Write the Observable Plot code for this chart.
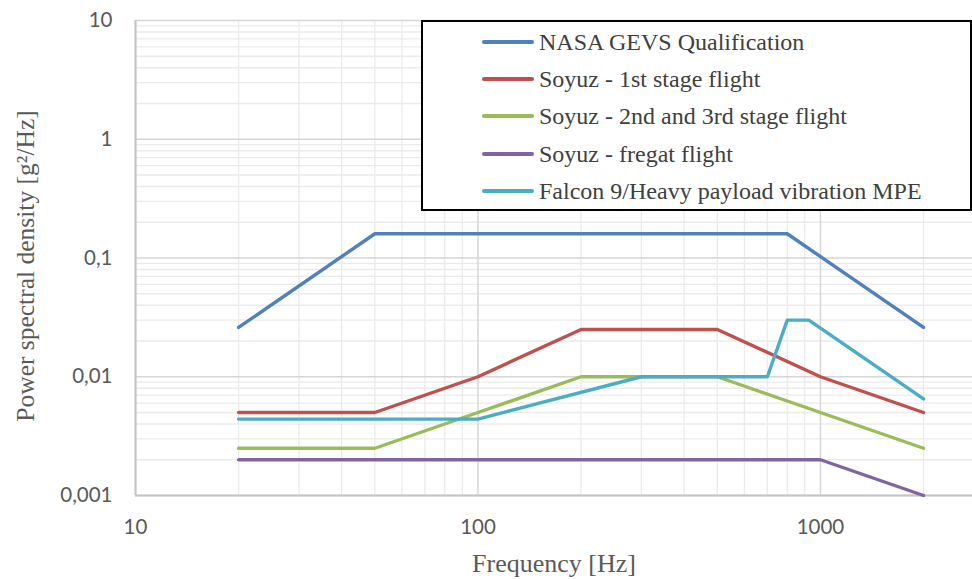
<!DOCTYPE html>
<html>
<head>
<meta charset="utf-8">
<script src="https://cdn.jsdelivr.net/npm/d3@7"></script>
<script src="https://cdn.jsdelivr.net/npm/@observablehq/plot@0.6"></script>
<style>
  html, body { margin: 0; padding: 0; background: #fff; }
  #wrap { position: relative; width: 972px; height: 579px; overflow: hidden; }
  #legend {
    position: absolute; left: 421px; top: 20px; width: 551px; height: 191px;
    box-sizing: border-box; border: 2px solid #000; background: #fff;
    font-family: "Liberation Serif", "Times New Roman", serif; font-size: 24px; color: #404040;
  }
  .row { position: absolute; left: 59px; height: 28px; display: flex; align-items: center; }
  .sw { width: 52px; height: 3.5px; border-radius: 2px; margin-right: 5px; }
</style>
</head>
<body>
<div id="wrap"><div id="legend"></div></div>
<script>
const seriesNames = [
  "NASA GEVS Qualification",
  "Soyuz - 1st stage flight",
  "Soyuz - 2nd and 3rd stage flight",
  "Soyuz - fregat flight",
  "Falcon 9/Heavy payload vibration MPE"
];
const seriesColors = ["#4F81BD", "#C0504D", "#9BBB59", "#8064A2", "#4BACC6"];

const nasaFreq = [20, 50, 800, 2000];
const nasaPsd  = [0.026, 0.16, 0.16, 0.026];
const soyuz1Freq = [20, 50, 100, 200, 500, 1000, 2000];
const soyuz1Psd  = [0.005, 0.005, 0.01, 0.025, 0.025, 0.01, 0.005];
const soyuz23Freq = [20, 50, 100, 200, 500, 1000, 2000];
const soyuz23Psd  = [0.0025, 0.0025, 0.005, 0.01, 0.01, 0.005, 0.0025];
const fregatFreq = [20, 1000, 2000];
const fregatPsd  = [0.002, 0.002, 0.001];
const falconFreq = [20, 100, 300, 700, 800, 925, 2000];
const falconPsd  = [0.0044, 0.0044, 0.01, 0.01, 0.03, 0.03, 0.0065];

const yTicks = [0.001, 0.01, 0.1, 1, 10];
const yTickLabels = ["0,001", "0,01", "0,1", "1", "10"];
const xTicks = [10, 100, 1000];
const xTickLabels = ["10", "100", "1000"];

const freqs = [nasaFreq, soyuz1Freq, soyuz23Freq, fregatFreq, falconFreq];
const psds = [nasaPsd, soyuz1Psd, soyuz23Psd, fregatPsd, falconPsd];
const data = [];
seriesNames.forEach((s, i) => freqs[i].forEach((f, j) => data.push({series: s, f, v: psds[i][j]})));

const xMax = 2780;
// grid positions
const xMinor = [], yMinor = [];
for (const d of [10, 100, 1000]) for (let k = 2; k <= 9; k++) if (d * k < xMax) xMinor.push(d * k);
for (const d of [0.001, 0.01, 0.1, 1]) for (let k = 2; k <= 9; k++) yMinor.push(d * k);

const chart = Plot.plot({
  width: 972, height: 579,
  marginLeft: 135, marginRight: 0, marginTop: 20, marginBottom: 84,
  style: {fontFamily: "Lato, sans-serif", background: "#fff"},
  x: {type: "log", domain: [10, xMax]},
  y: {type: "log", domain: [0.001, 10]},
  color: {domain: seriesNames, range: seriesColors},
  marks: [
    Plot.ruleX(xMinor, {stroke: "#ebebeb", strokeWidth: 1.3}),
    Plot.ruleY(yMinor, {stroke: "#ebebeb", strokeWidth: 1.3}),
    Plot.ruleX(xTicks, {stroke: "#d6d6d6", strokeWidth: 1.5}),
    Plot.ruleY(yTicks, {stroke: "#d6d6d6", strokeWidth: 1.5}),
    Plot.ruleX([10], {stroke: "#c4c4c4", strokeWidth: 2}),
    Plot.ruleY([0.001], {stroke: "#c4c4c4", strokeWidth: 2}),
    Plot.axisY(yTicks, {tickSize: 0, tickPadding: 23, fontSize: 20.5, fill: "#595959",
      tickFormat: d => yTickLabels[yTicks.indexOf(d)], label: null}),
    Plot.axisX(xTicks, {tickSize: 0, tickPadding: 24, fontSize: 20.5, fill: "#595959",
      tickFormat: d => xTickLabels[xTicks.indexOf(d)], label: null}),
    Plot.line(data, {x: "f", y: "v", z: "series", stroke: "series", strokeWidth: 3.4, strokeLinejoin: "round", strokeLinecap: "round"}),
    Plot.text(["Frequency [Hz]"], {frameAnchor: "bottom", dy: 76, fontFamily: "Liberation Serif, serif", fontSize: 26, fill: "#595959"}),
    Plot.text(["Power spectral density [g²/Hz]"], {frameAnchor: "left", textAnchor: "middle", dx: -110, dy: 8, rotate: -90, fontFamily: "Liberation Serif, serif", fontSize: 25.5, fill: "#595959"})
  ]
});
const wrap = document.getElementById("wrap");
wrap.insertBefore(chart, wrap.firstChild);

const legend = document.getElementById("legend");
const rowTops = [6, 43, 80, 118, 155];
seriesNames.forEach((s, i) => {
  const r = document.createElement("div");
  r.className = "row";
  r.style.top = rowTops[i] + "px";
  r.innerHTML = `<div class="sw" style="background:${seriesColors[i]}"></div><span>${s}</span>`;
  legend.appendChild(r);
});
</script>
</body>
</html>
